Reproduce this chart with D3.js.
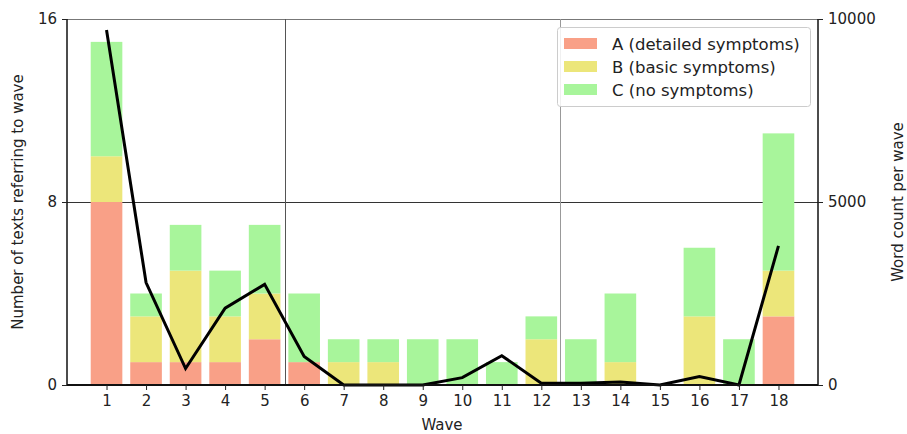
<!DOCTYPE html>
<html><head><meta charset="utf-8">
<script src="https://cdn.jsdelivr.net/npm/d3@7"></script>
<style>body{margin:0;background:#fff}svg{display:block;font-family:"DejaVu Sans",sans-serif}</style>
</head><body><svg id="c" width="907" height="434"></svg>
<script>
const waves = [1,2,3,4,5,6,7,8,9,10,11,12,13,14,15,16,17,18];
const seriesA = [8,1,1,1,2,1,0,0,0,0,0,0,0,0,0,0,0,3];
const seriesB = [2,2,4,2,2,0,1,1,0,0,0,2,0,1,0,3,0,2];
const seriesC = [5,1,2,2,3,3,1,1,2,2,1,1,2,3,0,3,2,6];
const wordCount = [9700,2800,450,2100,2750,780,0,0,0,200,800,50,50,80,0,230,0,3800];
const seriesNames = ["A (detailed symptoms)","B (basic symptoms)","C (no symptoms)"];
const colors = ["#f9a087","#ece67a","#a8f59b"];
const leftTicks = [0,8,16];
const rightTicks = [0,5000,10000];
const markers = [5.52,12.48];

const svg = d3.select("#c");
const L=67,R=818,T=19,B=385;
const x = d3.scaleLinear().domain([0,19]).range([L,R]);
const y = d3.scaleLinear().domain([0,16]).range([B,T]);
const y2 = d3.scaleLinear().domain([0,10000]).range([B,T]);
const bw = x(0.8)-x(0);

// grid
svg.append("g").selectAll("line").data(leftTicks.slice(1)).join("line")
  .attr("x1",L).attr("x2",R).attr("y1",d=>y(d)+0.5).attr("y2",d=>y(d)+0.5)
  .attr("stroke",(d,i)=>i==0?"#333":"#777").attr("stroke-width",1);
svg.append("g").selectAll("line").data(markers).join("line")
  .attr("x1",d=>Math.round(x(d))+0.5).attr("x2",d=>Math.round(x(d))+0.5).attr("y1",T).attr("y2",B)
  .attr("stroke",(d,i)=>i==0?"#555":"#999").attr("stroke-width",1);

// bars
const stacked = d3.stack().keys([0,1,2]).value((d,k)=>[seriesA,seriesB,seriesC][k][d])(d3.range(waves.length));
svg.append("g").selectAll("g").data(stacked).join("g").attr("fill",(d,i)=>colors[i])
  .selectAll("rect").data(d=>d).join("rect")
  .attr("x",(d,i)=>x(waves[i])-bw/2).attr("width",bw)
  .attr("y",d=>y(d[1])).attr("height",d=>y(d[0])-y(d[1]));

// line
svg.append("path").datum(wordCount)
  .attr("d",d3.line().x((d,i)=>x(waves[i])).y(d=>y2(d)))
  .attr("fill","none").attr("stroke","#000").attr("stroke-width",3).attr("stroke-linejoin","miter");

// axes
const ax = svg.append("g").attr("transform",`translate(0,${B})`)
  .call(d3.axisBottom(x).tickValues(waves).tickFormat(d3.format("d")).tickSize(5).tickPadding(5));
const al = svg.append("g").attr("transform",`translate(${L},0)`)
  .call(d3.axisLeft(y).tickValues(leftTicks).tickSize(5).tickPadding(5));
const ar = svg.append("g").attr("transform",`translate(${R},0)`)
  .call(d3.axisRight(y2).tickValues(rightTicks).tickFormat(d3.format("d")).tickSize(5).tickPadding(5));
[ax,al,ar].forEach(g=>{
  g.selectAll("text").attr("font-size",15).attr("fill","#222").attr("font-family","DejaVu Sans");
  g.selectAll("line").attr("stroke","#222");
  g.select(".domain").attr("stroke","#111").attr("stroke-width",1.5);
});
ax.select(".domain").attr("d",`M${L},0H${R}`).attr("stroke-width",2);
al.select(".domain").attr("d",`M0,${T}V${B}`);
ar.select(".domain").attr("d",`M0,${T}V${B}`);

// axis titles
svg.append("text").attr("x",442).attr("y",430).attr("text-anchor","middle").attr("font-size",15).attr("fill","#222").text("Wave");
svg.append("text").attr("transform","translate(23,202) rotate(-90)").attr("text-anchor","middle").attr("font-size",15).attr("fill","#222").text("Number of texts referring to wave");
svg.append("text").attr("transform","translate(903,202) rotate(-90)").attr("text-anchor","middle").attr("font-size",15).attr("fill","#222").text("Word count per wave");

// legend
const lg = svg.append("g");
lg.append("rect").attr("x",557.5).attr("y",27.5).attr("width",253).attr("height",79).attr("rx",3)
  .attr("fill","#fff").attr("fill-opacity",0.85).attr("stroke","#ccc");
seriesNames.forEach((n,i)=>{
  lg.append("rect").attr("x",564).attr("y",38+i*23).attr("width",33).attr("height",11).attr("fill",colors[i]);
  lg.append("text").attr("x",612).attr("y",50+i*23).attr("font-size",16.5).attr("fill","#222").text(n);
});
</script></body></html>
